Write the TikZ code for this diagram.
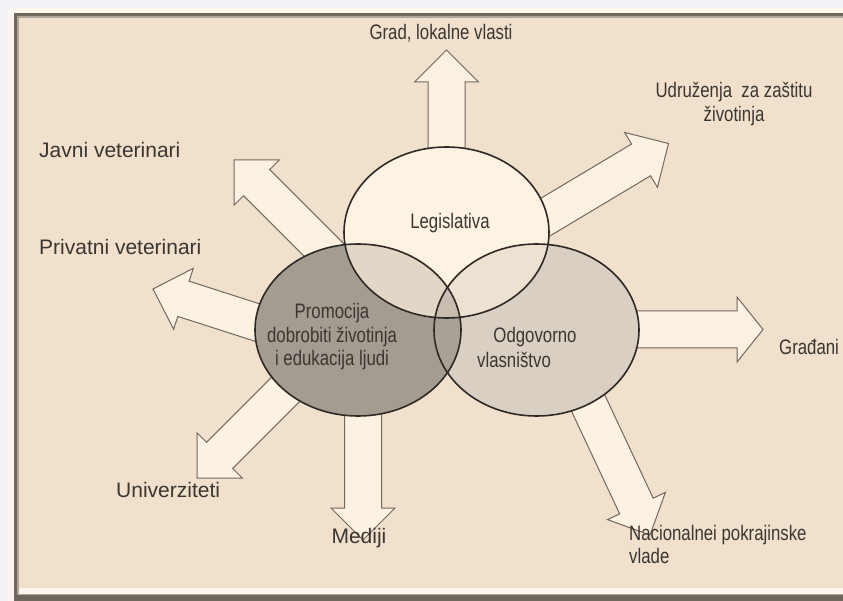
\documentclass[tikz,border=0pt]{standalone}
\usepackage{fontspec}
\setmainfont{Liberation Sans}
\newfontfamily\narrowsans[FakeStretch=0.8]{Liberation Sans}
\usetikzlibrary{calc}

\definecolor{outerbg}{RGB}{240,242,246}
\definecolor{framelight}{RGB}{251,246,238}
\definecolor{framedark}{RGB}{112,103,92}
\definecolor{framemid}{RGB}{176,166,152}
\definecolor{panel}{RGB}{240,224,204}
\definecolor{arrowfill}{RGB}{253,242,226}
\definecolor{arrowline}{RGB}{112,104,94}
\definecolor{ringline}{RGB}{45,41,38}
\definecolor{legfill}{RGB}{254,243,226}
\definecolor{promfill}{RGB}{165,156,145}
\definecolor{odgfill}{RGB}{217,207,195}
\definecolor{lpfill}{RGB}{226,214,198}
\definecolor{lofill}{RGB}{237,226,210}
\definecolor{pofill}{RGB}{170,161,150}
\definecolor{lpofill}{RGB}{200,189,176}
\definecolor{labeltext}{RGB}{58,54,50}

% block arrow: start, tip, head length, head half width
\newcommand\blockarrow[4]{%
  \coordinate (hb) at ($(#2)!#3!(#1)$);
  \draw[arrowbody]
    ($(#1)!18.5pt!90:(#2)$) -- ($(hb)!18.5pt!90:(#2)$) -- ($(hb)!#4!90:(#2)$) -- (#2)
    -- ($(hb)!#4!-90:(#2)$) -- ($(hb)!18.5pt!-90:(#2)$) -- ($(#1)!18.5pt!-90:(#2)$) -- cycle;
}

\begin{document}
\begin{tikzpicture}[x=1pt,y=-1pt,
  arrowbody/.style={fill=arrowfill, draw=arrowline, line width=1pt, line join=miter},
  ring/.style={draw=ringline, line width=1.6pt},
  narrowlabel/.style={font=\narrowsans\fontsize{21}{23.5}\selectfont, text=labeltext, inner sep=0pt},
  plainlabel/.style={font=\fontsize{21}{24}\selectfont, text=labeltext, inner sep=0pt}]

\useasboundingbox (0,0) rectangle (843,601);

% page and bevelled frame
\fill[outerbg] (0,0) rectangle (843,601);
\fill[framelight] (8,8) rectangle (843,601);
\fill[framedark] (14,13) rectangle (843,601);
\fill[framemid] (17,16) rectangle (843,595);
\fill[framelight] (19,588) rectangle (843,594);
\fill[panel] (19,18) rectangle (843,588);

% circle centres
\coordinate (cL) at (446.5,232.5);
\coordinate (cP) at (358,330);
\coordinate (cO) at (536.5,330);

% outgoing arrows
\coordinate (gradS) at (446.5,240);  \coordinate (gradT) at (446.5,50);
\coordinate (udrS) at (477,258);     \coordinate (udrT) at (668.5,143.5);
\coordinate (javS) at (347,273);     \coordinate (javT) at (234,160);
\coordinate (privS) at (296,335);    \coordinate (privT) at (153,289);
\coordinate (uniS) at (303,372);     \coordinate (uniT) at (197,478);
\coordinate (medS) at (363,380);     \coordinate (medT) at (363,540);
\coordinate (gradjS) at (600,329.5); \coordinate (gradjT) at (763,329.5);
\coordinate (nacS) at (582,390);     \coordinate (nacT) at (650,535);

\blockarrow{gradS}{gradT}{32pt}{32pt}
\blockarrow{udrS}{udrT}{32pt}{32pt}
\blockarrow{javS}{javT}{32pt}{32pt}
\blockarrow{privS}{privT}{32pt}{32pt}
\blockarrow{uniS}{uniT}{32pt}{32pt}
\blockarrow{medS}{medT}{32pt}{32pt}
\blockarrow{gradjS}{gradjT}{26pt}{32.5pt}
\blockarrow{nacS}{nacT}{32pt}{32pt}

% circle areas
\fill[legfill]  (cL) ellipse [x radius=102.5pt, y radius=85.5pt];
\fill[promfill] (cP) ellipse [x radius=103pt, y radius=86pt];
\fill[odgfill]  (cO) ellipse [x radius=102.5pt, y radius=86pt];

% overlaps
\begin{scope}
  \clip (cL) ellipse [x radius=102.5pt, y radius=85.5pt];
  \fill[lpfill] (cP) ellipse [x radius=103pt, y radius=86pt];
  \fill[lofill] (cO) ellipse [x radius=102.5pt, y radius=86pt];
\end{scope}
\begin{scope}
  \clip (cP) ellipse [x radius=103pt, y radius=86pt];
  \fill[pofill] (cO) ellipse [x radius=102.5pt, y radius=86pt];
  \clip (cL) ellipse [x radius=102.5pt, y radius=85.5pt];
  \fill[lpofill] (cO) ellipse [x radius=102.5pt, y radius=86pt];
\end{scope}

% outlines
\draw[ring] (cL) ellipse [x radius=102.5pt, y radius=85.5pt];
\draw[ring] (cP) ellipse [x radius=103pt, y radius=86pt];
\draw[ring] (cO) ellipse [x radius=102.5pt, y radius=86pt];

% circle texts
\node[narrowlabel] (leg) at (450,223) {Legislativa};
\node[narrowlabel, align=center] (prom) at (332,337)
  {Promocija\\dobrobiti životinja\\i edukacija ljudi};
\node[narrowlabel] (odg) at (535,337) {Odgovorno};
\node[narrowlabel] (vlas) at (514,360) {vlasništvo};

% outer labels
\node[narrowlabel] (grad) at (441,33) {Grad, lokalne vlasti};
\node[narrowlabel, align=center] (udr) at (734,104) {Udruženja\ \ za zaštitu\\životinja};
\node[plainlabel, anchor=west] (jav) at (39,150) {Javni veterinari};
\node[plainlabel, anchor=west] (priv) at (39,247) {Privatni veterinari};
\node[narrowlabel, anchor=west] (gradj) at (779,347) {Građani};
\node[plainlabel, anchor=west] (uni) at (116,490) {Univerziteti};
\node[plainlabel] (med) at (359,538) {Mediji};
\node[narrowlabel, anchor=north west, align=left] (nac) at (629,525)
  {Nacionalnei pokrajinske\\vlade};

\end{tikzpicture}
\end{document}
